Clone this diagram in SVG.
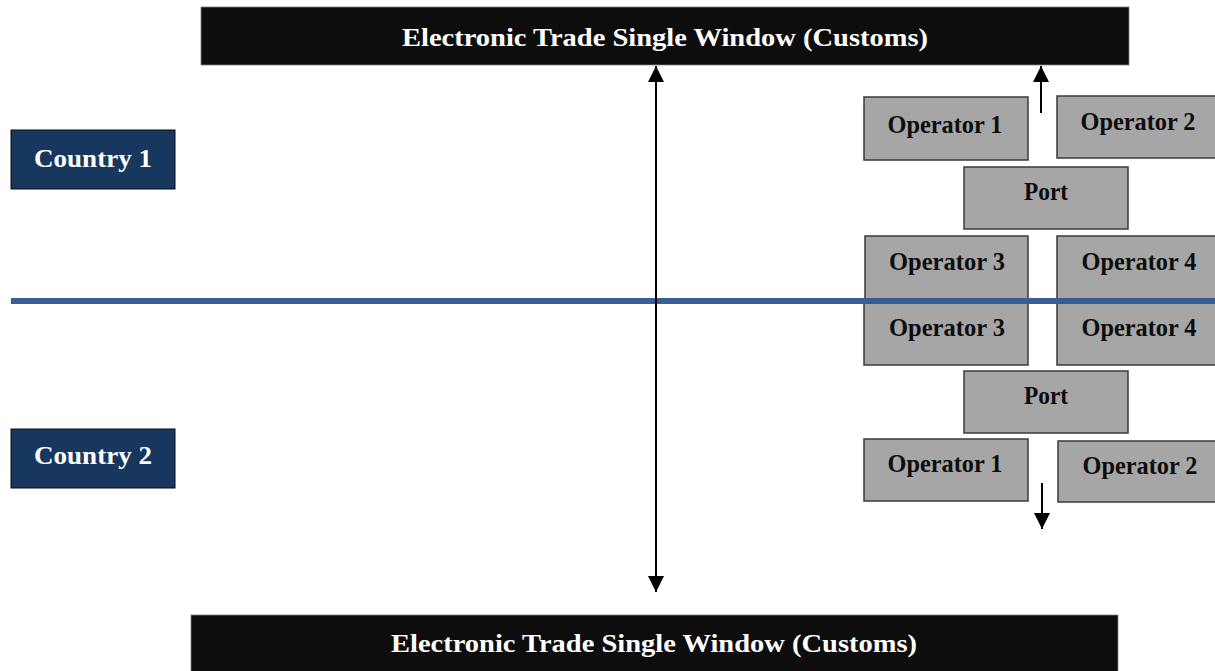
<svg xmlns="http://www.w3.org/2000/svg" width="1215" height="671" viewBox="0 0 1215 671">
<style>
text{font-family:"Liberation Serif","DejaVu Serif",serif;font-weight:bold;text-anchor:middle;dominant-baseline:central}
.bar{fill:#0d0d0d;stroke:#7f7f7f;stroke-width:0.8}
.bar-t{fill:#ffffff;font-size:26px}
.cty{fill:#17375e;stroke:#0d0d0d;stroke-width:1}
.cty-t{fill:#ffffff;font-size:26px}
.op{fill:#a6a6a6;stroke:#3a3a3a;stroke-width:1.5}
.op-t{fill:#0d0d0d;font-size:25px}
.ln{stroke:#000;stroke-width:2;fill:none}
</style>
<defs>
<marker id="ah2" viewBox="0 0 10 10" refX="10" refY="5" markerWidth="16" markerHeight="16" markerUnits="userSpaceOnUse" orient="auto-start-reverse">
<path d="M0,0 L10,5 L0,10 z" fill="#000"/>
</marker>
</defs>
<rect width="1215" height="671" fill="#ffffff"/>
<g id="top-window"><rect class="bar" x="201" y="7" width="928" height="58"/><text class="bar-t" x="665" y="37" textLength="526" lengthAdjust="spacingAndGlyphs">Electronic Trade Single Window (Customs)</text></g>
<g id="bottom-window"><rect class="bar" x="191" y="615" width="927" height="58"/><text class="bar-t" x="654" y="643" textLength="526" lengthAdjust="spacingAndGlyphs">Electronic Trade Single Window (Customs)</text></g>
<g id="country1"><rect class="cty" x="11" y="130" width="164" height="59"/><text class="cty-t" x="93" y="158" textLength="118" lengthAdjust="spacingAndGlyphs">Country 1</text></g>
<g id="country2"><rect class="cty" x="11" y="429" width="164" height="59"/><text class="cty-t" x="93" y="455" textLength="118" lengthAdjust="spacingAndGlyphs">Country 2</text></g>
<g id="c1-op1"><rect class="op" x="864" y="97" width="164" height="63"/><text class="op-t" x="945" y="124" textLength="115" lengthAdjust="spacingAndGlyphs">Operator 1</text></g>
<g id="c1-op2"><rect class="op" x="1057" y="96" width="164" height="62"/><text class="op-t" x="1138" y="121" textLength="115" lengthAdjust="spacingAndGlyphs">Operator 2</text></g>
<g id="c1-port"><rect class="op" x="964" y="167" width="164" height="62"/><text class="op-t" x="1046" y="191" textLength="44" lengthAdjust="spacingAndGlyphs">Port</text></g>
<g id="c1-op3"><rect class="op" x="865" y="236" width="163" height="64"/><text class="op-t" x="947" y="261" textLength="116" lengthAdjust="spacingAndGlyphs">Operator 3</text></g>
<g id="c1-op4"><rect class="op" x="1057" y="236" width="164" height="64"/><text class="op-t" x="1139" y="261" textLength="115" lengthAdjust="spacingAndGlyphs">Operator 4</text></g>
<g id="c2-op3"><rect class="op" x="864" y="302" width="164" height="63"/><text class="op-t" x="947" y="327" textLength="116" lengthAdjust="spacingAndGlyphs">Operator 3</text></g>
<g id="c2-op4"><rect class="op" x="1057" y="302" width="164" height="63"/><text class="op-t" x="1139" y="327" textLength="115" lengthAdjust="spacingAndGlyphs">Operator 4</text></g>
<g id="c2-port"><rect class="op" x="964" y="371" width="164" height="62"/><text class="op-t" x="1046" y="395" textLength="44" lengthAdjust="spacingAndGlyphs">Port</text></g>
<g id="c2-op1"><rect class="op" x="864" y="439" width="164" height="62"/><text class="op-t" x="945" y="463" textLength="115" lengthAdjust="spacingAndGlyphs">Operator 1</text></g>
<g id="c2-op2"><rect class="op" x="1058" y="441" width="164" height="61"/><text class="op-t" x="1140" y="465" textLength="115" lengthAdjust="spacingAndGlyphs">Operator 2</text></g>
<g id="border"><line x1="11" y1="301" x2="1215" y2="301" stroke="#376092" stroke-width="6"/></g>
<g id="connectors">
<line class="ln" x1="656" y1="66" x2="656" y2="592" marker-start="url(#ah2)" marker-end="url(#ah2)"/>
<line class="ln" x1="1041" y1="113" x2="1041" y2="66" marker-end="url(#ah2)"/>
<line class="ln" x1="1042" y1="483" x2="1042" y2="529" marker-end="url(#ah2)"/>
</g>
</svg>
